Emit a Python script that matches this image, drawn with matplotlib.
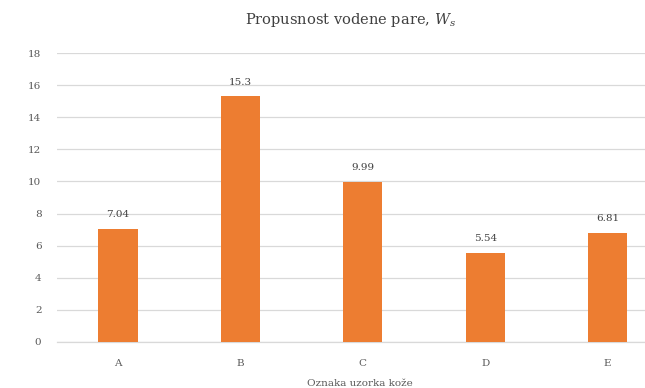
import matplotlib
matplotlib.use("Agg")
import matplotlib.pyplot as plt

categories = ["A", "B", "C", "D", "E"]
values = [7.04, 15.3, 9.99, 5.54, 6.81]
value_labels = ["7.04", "15.3", "9.99", "5.54", "6.81"]
y_ticks = [0, 2, 4, 6, 8, 10, 12, 14, 16, 18]

plt.rcParams["font.family"] = ["DejaVu Serif"]
plt.rcParams["mathtext.fontset"] = "dejavuserif"

fig = plt.figure(figsize=(6.45, 3.88), dpi=100)
ax = fig.add_axes([0.088, 0.1186, 0.949, 0.7448])

x = range(len(categories))
bars = ax.bar(x, values, width=0.32, color="#ED7D31", zorder=3)

for xi, v, lab in zip(x, values, value_labels):
    ax.annotate(lab, (xi, v), xytext=(0, 7), textcoords="offset points",
                ha="center", va="bottom", fontsize=7.5, color="#404040")

ax.set_xlim(-0.5, len(categories) - 0.5)
ax.set_ylim(0, 18)
ax.set_yticks(y_ticks)
ax.set_xticks(list(x))
ax.set_xticklabels(categories)
ax.tick_params(axis="both", length=0, labelsize=7.5, colors="#595959")
ax.tick_params(axis="y", pad=11)
ax.tick_params(axis="x", pad=12)

ax.yaxis.grid(True, color="#D9D9D9", linewidth=0.9, zorder=0)
for s in ["top", "right", "left"]:
    ax.spines[s].set_visible(False)
ax.spines["bottom"].set_color("#D9D9D9")
ax.spines["bottom"].set_linewidth(0.9)

fig.text(0.543, 0.948, r"Propusnost vodene pare, $W_s$", ha="center", va="center",
         fontsize=10.5, color="#404040")
fig.text(0.558, 0.012, "Oznaka uzorka kože", ha="center", va="center",
         fontsize=7.5, color="#595959")

fig.savefig("out.png", dpi=100, facecolor="white")
